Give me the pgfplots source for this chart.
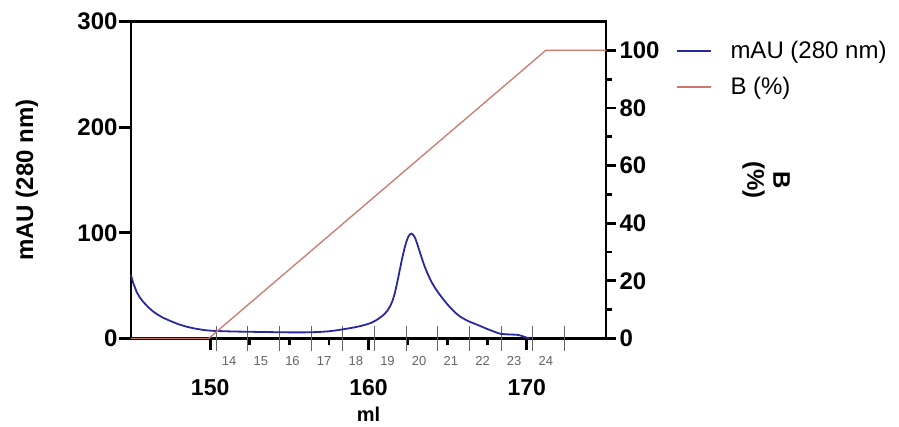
\documentclass[border=0pt]{standalone}
\usepackage{fontspec}
\setmainfont{Liberation Sans}
\usepackage{pgfplots}
\pgfplotsset{compat=1.18}
\definecolor{cblue}{RGB}{40,40,160}
\definecolor{cred}{RGB}{205,120,110}
\definecolor{fracgray}{RGB}{100,100,100}

\pgfplotstableread{
x y
145.0 60
145.15 52
145.36 44
145.55 39
145.78 34.5
146.1 29.5
146.4 25.5
146.7 22.5
147.0 19.8
147.5 16.5
148.0 13.5
148.5 11.2
149.0 9.5
149.6 8
150.1 7.3
150.6 7
151.5 6.6
152.7 6.3
154.0 6
155.0 5.8
156.0 5.8
156.8 6.1
157.5 6.8
158.1 8
158.6 9.2
159.1 10.5
159.5 11.8
159.9 13.4
160.2 15
160.5 17.4
160.8 20.5
161.0 23
161.2 26.5
161.35 30
161.5 35
161.65 42
161.8 52
161.95 63
162.1 74
162.25 84
162.4 92
162.52 96.5
162.63 98.8
162.72 99.2
162.82 98.2
162.95 95
163.1 88.5
163.25 81.5
163.4 74.5
163.55 68
163.7 62.5
163.85 57.5
164.0 53
164.2 48
164.4 43.5
164.6 39.5
164.9 33.8
165.2 28.6
165.5 24.2
165.8 20.6
166.1 18
166.4 15.8
166.9 12.8
167.5 9
167.95 6.4
168.2 5
168.4 4.3
168.8 3.9
169.4 3.5
169.65 2.6
169.85 1.5
170.05 0.5
170.2 0
}\mautable

\pgfplotstableread{
x y
145.0 0
149.9 0
171.2 100
175.0 100
}\btable

\pgfplotstableread{
x y lab
151.2 -21.3 14
153.2 -21.3 15
155.2 -21.3 16
157.2 -21.3 17
159.2 -21.3 18
161.2 -21.3 19
163.2 -21.3 20
165.2 -21.3 21
167.2 -21.3 22
169.2 -21.3 23
171.2 -21.3 24
}\fractable

\begin{document}
\begin{tikzpicture}
\useasboundingbox (-131pt,-88.5pt) rectangle (768pt,338.5pt);
\begin{axis}[
  scale only axis, width=475pt, height=317pt,
  at={(0pt,0pt)}, anchor=south west,
  xmin=145, xmax=175, ymin=0, ymax=300,
  clip=false,
  axis line style={line width=2.8pt},
  xtick={150,160,170}, minor x tick num=3,
  ytick={0,100,200,300},
  xtick pos=bottom, ytick pos=left,
  tick align=outside,
  major tick length=12pt, minor tick length=7pt,
  tick style={black, line width=2.8pt},
  extra x ticks={150.37,152.37,154.37,156.37,158.37,160.37,162.37,164.37,166.37,168.37,170.37,172.37},
  extra x tick labels={},
  extra x tick style={major tick length=25pt, tick align=center, tick style={fracgray, line width=0.8pt}},
  /pgf/number format/assume math mode=true,
  tick label style={font=\fontsize{24}{24}\selectfont\bfseries},
  xticklabel style={font=\fontsize{23}{23}\selectfont\bfseries, yshift=-28pt, inner sep=1pt},
  yticklabel style={xshift=2pt},
  xlabel={ml},
  every axis x label/.style={at={(axis description cs:0.5,0)}, anchor=center, yshift=-76pt, inner sep=0pt, font=\fontsize{20}{20}\selectfont\bfseries},
  ylabel={mAU (280 nm)},
  every axis y label/.style={at={(axis description cs:-0.219,0.5)}, anchor=center, rotate=90, font=\fontsize{24}{24}\selectfont\bfseries},
]
\addplot[cblue, line width=1.8pt] table[x=x, y=y] {\mautable};
\addplot[draw=none, mark=none, forget plot, nodes near coords, point meta=explicit symbolic,
  every node near coord/.style={anchor=center, font=\fontsize{13}{13}\selectfont, text=fracgray}]
  table[x=x, y=y, meta=lab] {\fractable};
\end{axis}
\begin{axis}[
  scale only axis, width=475pt, height=317pt,
  at={(0pt,0pt)}, anchor=south west,
  xmin=145, xmax=175, ymin=0, ymax=110,
  hide x axis, axis y line*=right,
  axis line style={line width=2.8pt},
  ytick={0,20,40,60,80,100}, minor y tick num=1,
  tick align=outside,
  major tick length=10pt, minor tick length=6pt,
  tick style={black, line width=2.8pt},
  /pgf/number format/assume math mode=true,
  tick label style={font=\fontsize{24}{24}\selectfont\bfseries},
  ylabel={B\\(\%)},
  every axis y label/.style={at={(axis description cs:1.337,0.5)}, anchor=center, rotate=-90, align=center, font=\fontsize{24}{26}\selectfont\bfseries},
  legend style={at={(axis description cs:1.14,0.95)}, anchor=north west, draw=none, fill=none,
    font=\fontsize{24}{24}\selectfont, row sep=13pt},
  legend cell align=left,
  legend image code/.code={\draw[#1] (0pt,0pt) -- (34pt,0pt); \path[draw=none, fill=none] (52pt,0pt) circle (0pt);},
]
\addlegendimage{cblue, line width=1.6pt}
\addlegendentry{mAU (280 nm)}
\addplot[cred, line width=1.3pt] table[x=x, y=y] {\btable};
\addlegendentry{B (\%)}
\end{axis}
\end{tikzpicture}
\end{document}
